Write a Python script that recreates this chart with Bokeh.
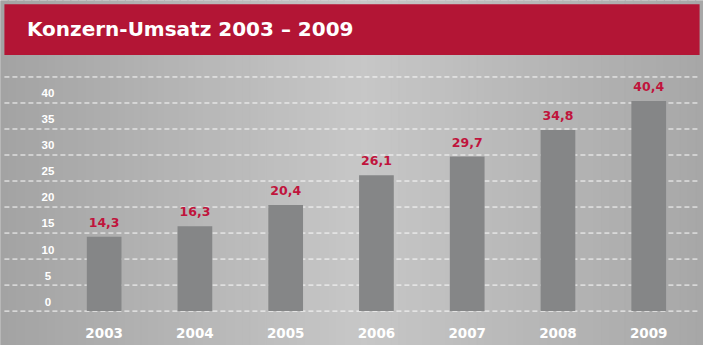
from bokeh.plotting import figure
from bokeh.models import Range1d, BoxAnnotation, Label, ColumnDataSource
from bokeh.core.properties import value
from bokeh.embed import file_html
from bokeh.resources import INLINE

# ---- data ----
years = ["2003", "2004", "2005", "2006", "2007", "2008", "2009"]
revenue = [14.3, 16.3, 20.4, 26.1, 29.7, 34.8, 40.4]
value_labels = ["14,3", "16,3", "20,4", "26,1", "29,7", "34,8", "40,4"]
y_ticks = [0, 5, 10, 15, 20, 25, 30, 35, 40]
y_tick_labels = ["0", "5", "10", "15", "20", "25", "30", "35", "40"]
grid_values = [0, 5, 10, 15, 20, 25, 30, 35, 40, 45]
title_text = "Konzern-Umsatz 2003 \u2013 2009"

# ---- layout: reference-pixel -> data mapping ----
W, H = 703, 345            # figure size (reference is 719 x 361)
RW, RH = 719, 361
PX0, PDX = 106.0, 92.83     # ref x of first bar centre, bar spacing
PY0, PDY = 325.0, 5.444     # ref y of value 0, ref pixels per unit
SY = H / RH


def xr(px):
    return (px - PX0) / PDX


def yr(py):
    return (PY0 - py) / PDY


p = figure(width=W, height=H, output_backend="svg", toolbar_location=None,
           x_range=Range1d(xr(0), xr(RW)), y_range=Range1d(yr(RH), yr(0)),
           x_axis_location=None, y_axis_location=None, min_border=0,
           outline_line_color=None, background_fill_color="#b8b8b8",
           border_fill_color="#b8b8b8")
p.xgrid.visible = False
p.ygrid.visible = False

# background gradient (horizontal)
stops = [(0, 163), (370, 199), (719, 167)]


def gray_at(px):
    for (a, ga), (b, gb) in zip(stops[:-1], stops[1:]):
        if a <= px <= b:
            return int(round(ga + (gb - ga) * (px - a) / (b - a)))
    return stops[-1][1]


n = 90
edges = [RW * i / n for i in range(n + 1)]
cols = []
for a, b in zip(edges[:-1], edges[1:]):
    g = gray_at((a + b) / 2)
    cols.append("#%02x%02x%02x" % (g, g, g))
p.quad(left=[xr(e) for e in edges[:-1]], right=[xr(e) for e in edges[1:]],
       bottom=yr(RH + 10), top=yr(-10),
       fill_color=cols, line_color=cols, line_width=1, level="image")

# dashed grid lines
p.segment(x0=xr(4), x1=xr(715), y0=grid_values, y1=grid_values,
          line_color="white", line_dash="5 3", line_width=1, line_alpha=0.95,
          level="underlay")

# bars
idx = list(range(len(years)))
src = ColumnDataSource(dict(x=idx, top=revenue, lab=value_labels, year=years))
p.vbar(x="x", top="top", bottom=0, width=35.5 / PDX, source=src,
       fill_color="#858687", line_color=None)

# value labels
p.text(x="x", y="top", text="lab", source=src, text_font=value("DejaVu Sans"),
       text_font_style="bold", text_font_size="12.5px", text_color="#c0143c",
       text_align="center", text_baseline="middle", y_offset=-15 * SY)

# year labels
p.text(x="x", y=yr(347.7), text="year", source=src, text_font=value("DejaVu Sans"),
       text_font_style="bold", text_font_size="13.5px", text_color="white",
       text_align="center", text_baseline="middle")

# y tick labels (inside plot, left)
p.text(x=[xr(48.5)] * len(y_ticks), y=y_ticks, text=y_tick_labels,
       text_font=value("Liberation Sans"), text_font_style="bold",
       text_font_size="11.5px", text_color="white", text_align="center",
       text_baseline="middle", y_offset=-10 * SY)

# title bar
p.add_layout(BoxAnnotation(left=xr(4), right=xr(715), bottom=yr(57), top=yr(4),
                           fill_color="#b31535", fill_alpha=1.0, line_color=None))
p.add_layout(Label(x=xr(27), y=yr(30), text=title_text, text_color="white",
                   text_font="DejaVu Sans", text_font_style="bold",
                   text_font_size="20px", text_align="left",
                   text_baseline="middle"))

open("out.html", "w").write(file_html(p, INLINE))
